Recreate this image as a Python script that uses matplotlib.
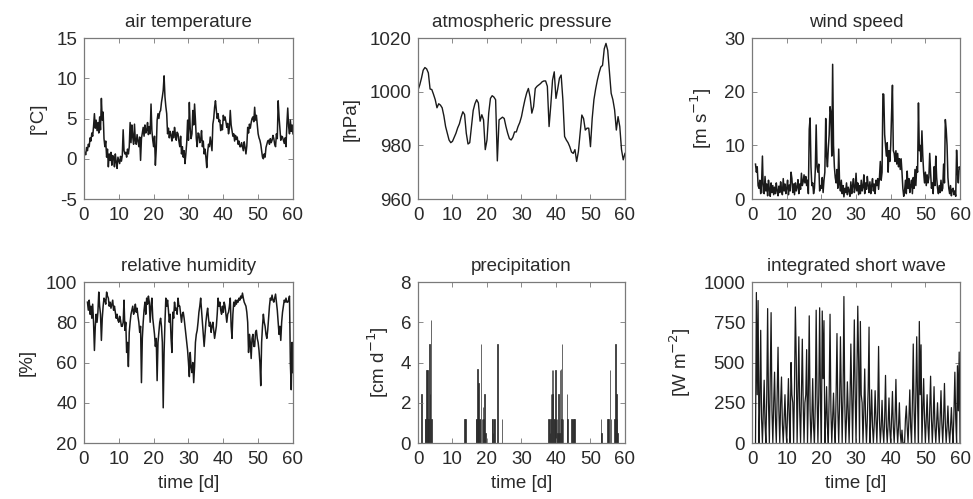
import numpy as np
import matplotlib
matplotlib.use("Agg")
import matplotlib.pyplot as plt

# air temperature [degC], every 6 h from day 0
temp_start = 0.0
temp = [
    0.2, 0.8, 0.5, 1.4, 1.0, 1.8, 1.5, 2.6, 2.2, 3.2, 2.8, 4.0,
    5.6, 3.8, 4.8, 3.5, 4.5, 3.2, 5.2, 3.6, 7.5, 4.8, 5.8, 2.5,
    1.5, 2.2, 0.2, 1.2, -1.0, 0.6, -0.2, 0.8, -0.8, 0.4, 0.2, -1.0,
    0.6, -0.4, -1.2, 0.2, -0.2, -0.6, 0.3, -0.3, 0.4, 3.6, 1.0, 0.6,
    0.8, 0.2, 1.2, 0.6, 1.5, 4.5, 2.0, 4.2, 2.7, 1.8, 4.3, 2.2,
    1.8, 3.0, 2.2, 1.5, 2.7, -0.2, 2.5, 3.2, 3.9, 2.8, 4.2, 3.2,
    3.5, 4.5, 3.0, 4.0, 3.1, 6.8, 3.5, 2.3, 1.5, 2.8, -0.8, 1.2,
    4.8, 5.6, 5.0, 5.8, 6.0, 7.0, 7.7, 8.5, 10.3, 7.7, 6.5, 5.6,
    3.1, 3.8, 2.6, 3.4, 2.9, 2.2, 3.4, 2.6, 3.9, 3.0, 2.3, 3.3,
    3.1, 2.2, 1.5, 2.8, 0.6, 1.5, 0.2, 1.0, -0.6, 0.6, 2.0, 4.8,
    2.3, 7.0, 3.8, 2.5, 3.1, 6.0, 4.2, 6.8, 4.8, 2.5, 1.5, 3.2,
    3.1, 2.0, 2.3, 3.5, 1.5, 2.2, 0.6, 1.2, 0.2, -1.1, 0.8, 1.8,
    1.5, 2.7, 1.8, 1.0, 4.3, 5.0, 6.4, 7.2, 6.0, 5.0, 5.6, 4.6,
    4.8, 3.5, 4.2, 3.6, 5.4, 4.8, 5.2, 4.6, 3.9, 4.4, 3.1, 3.8,
    6.0, 4.2, 3.5, 2.8, 3.1, 2.2, 2.9, 2.4, 2.7, 1.8, 2.2, 1.5,
    1.5, 2.0, 1.5, 1.0, 2.1, 1.4, 0.6, 1.6, 3.9, 3.2, 4.3, 3.8,
    4.5, 5.0, 5.2, 4.6, 6.4, 4.8, 5.4, 4.2, 3.1, 2.6, 2.3, 1.8,
    1.0, 0.2, 0.0, 0.6, 0.2, 1.4, 1.8, 2.2, 2.3, 1.8, 2.5, 2.0,
    2.3, 2.9, 2.5, 1.8, 1.5, 3.1, 2.5, 7.2, 5.2, 3.8, 2.3, 2.8,
    2.7, 2.3, 1.9, 2.6, 1.5, 4.3, 6.3, 4.0, 3.1, 4.8, 3.4, 4.2,
    3.1,
]

# atmospheric pressure [hPa], every 12 h from day 0
pres_start = 0.0
pres = [
    1000.6, 1002.5, 1005, 1008, 1009, 1008.5, 1007, 1001, 1000.8, 999,
    997, 994, 995.5, 995, 994, 991, 987, 984.5, 982, 981,
    981.5, 983, 984.5, 986.5, 988, 990.5, 992.5, 991.5, 984.5, 980.5,
    981, 987, 993, 995.5, 997, 995.8, 989, 991.4, 989.5, 978.4,
    982, 992, 997.5, 998.5, 998, 997, 974.2, 989.5, 990, 990.5,
    990, 987, 984.5, 982.5, 982, 983, 985, 985, 987, 988.5,
    990.7, 994, 997, 999.5, 1001.2, 998, 992, 994.4, 1001.2, 1002,
    1002.5, 1003, 1003.7, 1004, 1004, 1002, 987, 995, 1004.3, 1007.4,
    997.5, 1001, 1005, 1006.2, 997, 983.3, 982, 981, 979.5, 977.5,
    977, 978.4, 974, 977.7, 984.5, 991.3, 990, 985.7, 986.4, 986.4,
    979.5, 990, 997, 1001, 1004.3, 1007, 1009.2, 1009.8, 1016, 1018,
    1015.4, 1007.4, 999.4, 997, 993.2, 985.7, 990.7, 987, 978.4, 974.6,
    977,
]

# wind speed [m/s], every 6 h from day 1
wind_start = 1.0
wind = [
    6.5, 5.0, 6.0, 2.5, 2.0, 3.5, 1.0, 2.8, 8.0, 1.2, 1.0, 4.2,
    1.5, 2.8, 0.6, 3.5, 1.8, 0.5, 3.0, 1.2, 2.5, 0.8, 2.2, 1.0,
    3.0, 1.5, 0.6, 2.4, 1.2, 3.2, 1.8, 0.8, 3.8, 1.5, 2.8, 1.0,
    2.0, 3.5, 0.8, 2.6, 1.5, 5.0, 3.8, 1.2, 2.8, 0.8, 3.0, 1.5,
    2.2, 3.6, 1.0, 2.8, 1.8, 4.8, 2.5, 3.2, 4.5, 3.0, 4.2, 2.5,
    3.5, 1.0, 13.0, 15.1, 6.0, 2.5, 3.0, 1.0, 2.0, 5.5, 13.8, 6.0,
    5.0, 6.5, 1.5, 2.5, 2.0, 4.0, 1.2, 3.5, 5.0, 15.0, 8.0, 6.0,
    9.5, 12.0, 17.2, 16.0, 8.0, 25.1, 10.0, 6.0, 4.0, 3.0, 5.5, 2.0,
    9.3, 3.0, 1.5, 3.5, 1.0, 2.5, 0.4, 2.0, 1.2, 3.0, 0.8, 2.2,
    1.5, 0.5, 3.2, 1.0, 2.5, 3.8, 1.2, 2.0, 4.8, 1.5, 3.0, 0.8,
    2.5, 1.0, 3.5, 1.5, 2.2, 4.5, 1.0, 3.0, 1.8, 4.2, 2.5, 1.2,
    3.2, 1.0, 2.5, 3.8, 1.5, 2.8, 1.0, 3.5, 2.5, 3.8, 1.8, 4.0,
    7.0, 3.5, 5.0, 19.6, 19.5, 12.0, 10.0, 8.0, 10.5, 5.0, 9.0, 7.0,
    10.0, 16.0, 21.2, 9.0, 8.5, 7.0, 9.0, 6.5, 8.5, 6.0, 7.5, 5.5,
    7.5, 5.0, 2.0, 0.5, 1.5, 3.5, 1.0, 5.2, 2.0, 3.8, 1.2, 2.5,
    3.5, 1.0, 4.0, 2.0, 5.5, 2.5, 6.0, 5.0, 17.9, 9.0, 10.0, 7.0,
    12.7, 8.0, 5.0, 3.0, 5.0, 2.5, 4.5, 3.0, 4.0, 8.5, 5.0, 2.0,
    3.0, 1.0, 6.0, 2.5, 8.0, 4.0, 2.0, 1.0, 2.5, 1.2, 3.5, 1.5,
    2.0, 6.5, 3.0, 14.8, 13.0, 10.0, 4.0, 2.0, 1.0, 2.5, 0.6, 1.8,
    2.0, 0.8, 1.5, 0.5, 9.1, 5.0, 3.0, 6.0, 5.7,
]

# relative humidity [%], every 6 h from day 1
hum_start = 1.0
hum = [
    90, 86, 91, 84, 88, 82, 89, 80, 66, 78, 84, 80,
    85, 95, 88, 84, 71, 82, 88, 92, 91, 89, 95, 93,
    92, 88, 90, 87, 89, 91, 86, 88, 85, 82, 84, 81,
    80, 83, 81, 78, 78, 80, 91, 76, 80, 65, 70, 58,
    75, 80, 84, 86, 88, 84, 86, 89, 85, 87, 83, 80,
    75, 78, 50, 72, 80, 86, 90, 84, 92, 89, 93, 90,
    80, 88, 92, 82, 78, 74, 68, 72, 51, 70, 75, 80,
    82, 78, 70, 37.5, 65, 80, 92, 88, 91, 86, 80, 84,
    72, 65, 85, 82, 90, 86, 87, 84, 92, 88, 88, 84,
    80, 84, 85, 82, 78, 74, 70, 66, 60, 53, 65, 58,
    55, 60, 50, 58, 70, 74, 76, 80, 85, 88, 92, 86,
    80, 74, 68, 74, 80, 84, 87, 82, 78, 80, 75, 78,
    80, 76, 72, 75, 78, 84, 92, 88, 90, 86, 84, 88,
    85, 90, 88, 84, 80, 84, 85, 88, 92, 78, 72, 84,
    90, 88, 91, 89, 91, 90, 92, 91, 93, 92, 94.5, 92,
    90, 89, 88, 85, 80, 65, 74, 70, 62, 72, 74, 68,
    68, 75, 76, 72, 70, 66, 60, 48.5, 70, 78, 84, 80,
    78, 74, 72, 76, 82, 88, 92, 91, 93.5, 91, 90, 92,
    94, 90, 86, 80, 74, 78, 71, 80, 85, 88, 91, 90,
    92, 90, 90, 91, 93, 60, 46.5, 70, 55,
]

# precipitation [cm/d]
precip_day = [
    1.0, 2.0, 2.2, 2.5, 2.7, 2.9, 3.1, 3.3, 3.5, 3.7, 3.85,
    13.5, 13.8,
    16.8, 17.0, 17.2, 17.4, 17.6, 17.8, 18.0, 18.3, 18.5, 18.8, 19.0, 19.3, 19.5,
    21.4, 21.6, 21.8, 22.0, 22.2, 23.1, 24.3,
    37.8, 38.0, 38.2, 38.4, 38.6, 38.8, 39.0, 39.2, 39.4, 39.6, 39.8, 40.0,
    40.3, 40.5, 40.8, 41.0, 41.2, 41.4, 41.6, 41.8, 42.0,
    43.2, 43.4, 44.5, 44.7, 44.9, 45.1, 45.3,
    53.0, 53.2, 55.0, 55.2, 55.7, 55.9,
    56.9, 57.1, 57.3, 57.5, 57.7, 57.9,
]
precip_val = [
    2.45, 1.2, 1.2, 3.65, 3.65, 1.2, 1.2, 4.9, 2.45, 6.1, 1.2,
    1.2, 1.2,
    1.2, 1.2, 3.7, 2.45, 3.0, 1.2, 1.2, 4.9, 1.2, 1.8, 1.2, 2.45, 0.5,
    1.2, 1.2, 0.5, 1.2, 1.2, 4.9, 1.2,
    1.2, 1.2, 0.5, 1.2, 2.45, 3.65, 2.45, 3.65, 1.2, 1.2, 3.65, 1.2,
    1.2, 0.5, 2.45, 0.5, 3.65, 3.7, 1.2, 4.9, 1.2,
    2.45, 1.2, 1.2, 1.2, 1.2, 1.2, 1.2,
    1.2, 0.5, 1.2, 1.2, 3.65, 1.2,
    1.2, 1.2, 4.9, 2.45, 1.2, 0.5,
]

# integrated short wave [W/m2], every 6 h from day 1
sw_start = 1.0
sw = [
    0, 935, 300, 885, 0, 250, 700, 150, 0, 200, 390, 120,
    0, 300, 835, 250, 0, 400, 810, 200, 0, 250, 440, 150,
    0, 300, 595, 200, 0, 250, 410, 120, 0, 150, 300, 100,
    0, 200, 400, 150, 0, 500, 300, 250, 0, 350, 845, 530,
    0, 300, 660, 200, 0, 300, 645, 250, 0, 250, 300, 580,
    0, 300, 790, 200, 0, 150, 400, 100, 0, 250, 825, 300,
    0, 300, 840, 250, 0, 820, 400, 760, 0, 150, 350, 100,
    0, 300, 800, 200, 0, 150, 310, 100, 0, 300, 680, 200,
    0, 250, 660, 300, 0, 300, 910, 250, 0, 150, 380, 200,
    0, 250, 615, 300, 0, 350, 765, 300, 0, 400, 850, 500,
    0, 755, 300, 250, 0, 200, 460, 150, 0, 150, 340, 720,
    0, 150, 330, 100, 0, 120, 325, 150, 0, 200, 600, 150,
    0, 100, 265, 80, 0, 150, 420, 100, 0, 120, 280, 80,
    0, 150, 320, 100, 0, 150, 395, 120, 0, 100, 250, 60,
    0, 80, 0, 0, 0, 150, 230, 100, 0, 150, 330, 100,
    0, 250, 615, 200, 0, 300, 660, 250, 0, 755, 300, 610,
    0, 200, 400, 150, 0, 150, 300, 100, 0, 200, 415, 150,
    0, 150, 350, 100, 0, 120, 250, 100, 0, 150, 325, 120,
    0, 150, 370, 120, 0, 100, 230, 80, 0, 100, 220, 80,
    0, 200, 440, 150, 0, 480, 200, 565, 0,
]

plt.rcParams['font.family'] = ['Liberation Sans', 'DejaVu Sans']
plt.rcParams['axes.unicode_minus'] = False
TXT = '#2a2a2a'
LINE = '#1a1a1a'
FS = 13.5


def time_axis(start, step, n):
    return start + step * np.arange(n)


def style_axes(ax, title, ylabel, yticks, xlabel=None):
    ax.set_xlim(0, 60)
    ax.set_xticks([0, 10, 20, 30, 40, 50, 60])
    ax.set_ylim(yticks[0], yticks[-1])
    ax.set_yticks(yticks)
    ax.set_title(title, fontsize=FS, color=TXT, pad=8)
    ax.set_ylabel(ylabel, fontsize=FS, color=TXT, labelpad=7)
    if xlabel:
        ax.set_xlabel(xlabel, fontsize=FS, color=TXT, labelpad=5)
    ax.tick_params(direction='in', top=True, right=True, length=3.5,
                   width=0.6, colors='#777777', labelcolor=TXT,
                   labelsize=FS)
    ax.tick_params(axis='x', pad=5.5)
    ax.tick_params(axis='y', pad=5)
    for s in ax.spines.values():
        s.set_color('#7a7a7a')
        s.set_linewidth(0.9)


fig = plt.figure(figsize=(9.73, 4.99), dpi=100)

cols = [(0.0863, 0.2148), (0.4296, 0.2127), (0.7729, 0.2138)]
rows = [0.6012, 0.1122]
h = 0.3226
axes = [[fig.add_axes([c[0], r, c[1], h]) for c in cols] for r in rows]

# top row
ax = axes[0][0]
ax.plot(time_axis(temp_start, 0.25, len(temp)), temp, color=LINE, lw=1.1)
style_axes(ax, 'air temperature', '[°C]', [-5, 0, 5, 10, 15])

ax = axes[0][1]
ax.plot(time_axis(pres_start, 0.5, len(pres)), pres, color=LINE, lw=1.0)
style_axes(ax, 'atmospheric pressure', '[hPa]', [960, 980, 1000, 1020])

ax = axes[0][2]
ax.plot(time_axis(wind_start, 0.25, len(wind)), wind, color=LINE, lw=1.1)
style_axes(ax, 'wind speed', '[m s$^{-1}$]', [0, 10, 20, 30])

# bottom row
ax = axes[1][0]
ax.plot(time_axis(hum_start, 0.25, len(hum)), hum, color=LINE, lw=1.1)
style_axes(ax, 'relative humidity', '[%]', [20, 40, 60, 80, 100], 'time [d]')

ax = axes[1][1]
ax.bar(precip_day, precip_val, width=0.15, color='#2a2a2a',
       edgecolor='#2a2a2a', linewidth=0.5)
style_axes(ax, 'precipitation', '[cm d$^{-1}$]', [0, 2, 4, 6, 8], 'time [d]')

ax = axes[1][2]
ax.plot(time_axis(sw_start, 0.25, len(sw)), sw, color=LINE, lw=0.9)
style_axes(ax, 'integrated short wave', '[W m$^{-2}$]',
           [0, 250, 500, 750, 1000], 'time [d]')

fig.savefig('out.png', dpi=100, facecolor='white')
